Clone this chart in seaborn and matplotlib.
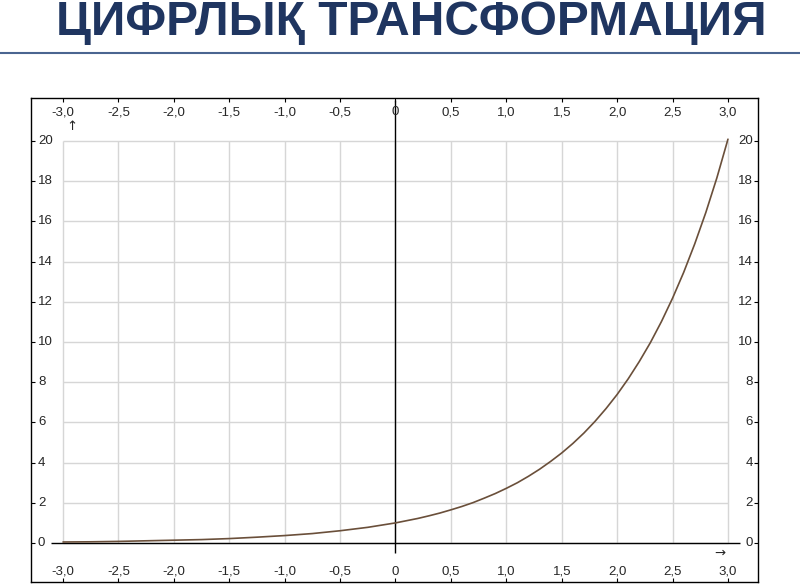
import numpy as np
import pandas as pd
import seaborn as sns
from matplotlib import pyplot as plt

sns.set_style("white")
plt.rcParams['font.family'] = ['Liberation Sans Narrow', 'Liberation Sans', 'DejaVu Sans']
plt.rcParams['axes.unicode_minus'] = False

# curve
x = [-3.0, -2.75, -2.5, -2.25, -2.0, -1.75, -1.5, -1.25, -1.0, -0.75, -0.5, -0.25,
     0.0, 0.1, 0.2, 0.3, 0.4, 0.5, 0.6, 0.7, 0.8, 0.9,
     1.0, 1.1, 1.2, 1.3, 1.4, 1.5, 1.6, 1.7, 1.8, 1.9,
     2.0, 2.1, 2.2, 2.3, 2.4, 2.5, 2.6, 2.7, 2.8, 2.9, 3.0]
y = [0.05, 0.06, 0.08, 0.11, 0.14, 0.17, 0.22, 0.29, 0.37, 0.47, 0.61, 0.78,
     1.0, 1.11, 1.22, 1.35, 1.49, 1.65, 1.82, 2.01, 2.23, 2.46,
     2.72, 3.00, 3.32, 3.67, 4.06, 4.48, 4.95, 5.47, 6.05, 6.69,
     7.39, 8.17, 9.03, 9.97, 11.02, 12.18, 13.46, 14.88, 16.44, 18.17, 20.09]

x_ticks = [-3.0, -2.5, -2.0, -1.5, -1.0, -0.5, 0.0, 0.5, 1.0, 1.5, 2.0, 2.5, 3.0]
x_labels = ['-3,0', '-2,5', '-2,0', '-1,5', '-1,0', '-0,5', '0', '0,5', '1,0', '1,5', '2,0', '2,5', '3,0']
y_ticks = [0, 2, 4, 6, 8, 10, 12, 14, 16, 18, 20]
y_labels = ['0', '2', '4', '6', '8', '10', '12', '14', '16', '18', '20']

title = 'ЦИФРЛЫҚ ТРАНСФОРМАЦИЯ'

df = pd.DataFrame({'x': x, 'y': y})

fig = plt.figure(figsize=(8, 5.84), dpi=100)
ax = fig.add_axes([31/800, 2/584, 727/800, 484/584])

# grid
ax.vlines(x_ticks, 0, 20, color='#d6d6d6', lw=1, zorder=1)
ax.hlines(y_ticks, -3, 3, color='#d6d6d6', lw=1, zorder=1)
# axes through origin
ax.hlines(0, -3.11, 3.11, color='black', lw=1, zorder=2)
ax.vlines(0, -0.5, 22.04, color='black', lw=1, zorder=2)

sns.lineplot(data=df, x='x', y='y', ax=ax, color='#6a4f3a', lw=1.2, zorder=3)

ax.set_xlim(-3.289, 3.271)
ax.set_ylim(-1.94, 22.14)
ax.set_xticks(x_ticks)
ax.set_yticks(y_ticks)
ax.tick_params(direction='in', length=3, width=0.8, color='black',
               top=True, bottom=True, left=True, right=True,
               labelbottom=False, labelleft=False)
ax.set_xlabel('')
ax.set_ylabel('')
for s in ax.spines.values():
    s.set_color('black')
    s.set_linewidth(1)

fs = 9.5
for v, t in zip(x_ticks, x_labels):
    ax.text(v, 21.44, t, ha='center', va='center', fontsize=fs)
    ax.text(v, -1.44, t, ha='center', va='center', fontsize=fs)
for v, t in zip(y_ticks, y_labels):
    ax.text(-3.226, v, t, ha='left', va='center', fontsize=fs)
    ax.text(3.226, v, t, ha='right', va='center', fontsize=fs)

ax.text(-2.92, 20.7, '↑', ha='center', va='center', fontsize=fs, family='DejaVu Sans')
ax.text(2.93, -0.5, '→', ha='center', va='center', fontsize=fs, family='DejaVu Sans')

# title and rule
fig.text(0.514, (584 - 35) / 584, title, ha='center', va='baseline',
         fontsize=34.5, fontweight='bold', color='#1f3560',
         family=['Liberation Sans Narrow', 'Liberation Sans', 'DejaVu Sans'])
fig.add_artist(plt.Line2D([0, 1], [(584 - 53) / 584] * 2, color='#4a6590', lw=1.5))

fig.savefig('out.png', dpi=100)
